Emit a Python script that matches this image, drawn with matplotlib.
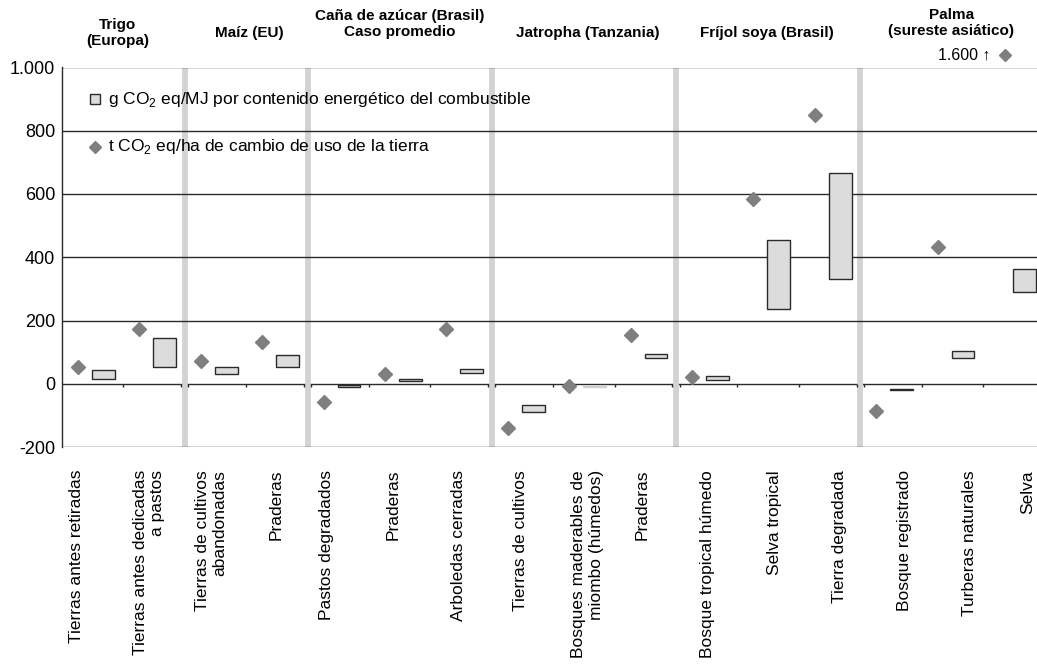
import matplotlib
matplotlib.use("Agg")
import matplotlib.pyplot as plt
import matplotlib.transforms as mtransforms
from matplotlib.ticker import FuncFormatter
import numpy as np

plt.rcParams["font.family"] = ["Liberation Sans", "DejaVu Sans"]
plt.rcParams["mathtext.fontset"] = "custom"
plt.rcParams["mathtext.rm"] = "Liberation Sans"

# grupos de cultivo (encabezados) y cuantas categorias tiene cada uno
grupos = ["Trigo\n(Europa)", "Maíz (EU)", "Caña de azúcar (Brasil)\nCaso promedio",
          "Jatropha (Tanzania)", "Fríjol soya (Brasil)", "Palma\n(sureste asiático)"]
n_por_grupo = [2, 2, 3, 3, 3, 3]

categorias = [
    "Tierras antes retiradas", "Tierras antes dedicadas\na pastos",
    "Tierras de cultivos\nabandonadas", "Praderas",
    "Pastos degradados", "Praderas", "Arboledas cerradas",
    "Tierras de cultivos", "Bosques maderables de\nmiombo (húmedos)", "Praderas",
    "Bosque tropical húmedo", "Selva tropical", "Tierra degradada",
    "Bosque registrado", "Turberas naturales", "Selva",
]

# t CO2 eq/ha de cambio de uso de la tierra (rombos)
t_ha = [52, 173, 72, 131, -59, 32, 173, -139, -7, 154, 22, 583, 851, -86, 431, 1600]
# g CO2 eq/MJ (rango de la caja)
g_mj_min = [15, 53, 30, 53, -10, 8, 35, -89, -10.5, 81, 12, 235, 332, -21, 82, 290]
g_mj_max = [44, 145, 52, 92, -3, 16, 47, -68, -8.5, 94, 24, 455, 667, -17, 103, 362]

# posiciones de las etiquetas del eje x (no coinciden exactamente con las categorias)
label_pos = [0.23, 1.42, 2.43, 3.49, 4.31, 5.40, 6.46, 7.47, 8.56, 9.45,
             10.52, 11.60, 12.66, 13.72, 14.78, 15.72]
header_pos = [0.91, 3.05, 5.5, 8.57, 11.48, 14.48]

W, H = 1037, 665
fig = plt.figure(figsize=(W / 100, H / 100), dpi=100)
ax = fig.add_axes([62 / W, 1 - 447 / H, (W - 62) / W, (447 - 67.5) / H])

n = len(categorias)
x = np.arange(n)
ax.set_xlim(0, (W - 62) / 61.4)
ax.set_ylim(-200, 1000)

# lineas horizontales
for v in [1000, 800, 600, 400, 200, -200]:
    ax.axhline(v, color="#2a2a2a", lw=1.0, zorder=4)
ax.axhline(0, color="#2a2a2a", lw=1.0, zorder=1)

# separadores entre grupos
limites = np.cumsum(n_por_grupo)[:-1]
for b in limites:
    ax.axvline(b, color="#d3d3d3", lw=4.2, zorder=2)

# marcas pequenas en la linea de cero
ticks = []
for b in range(1, n):
    if b in limites:
        ticks += [b - 0.06, b + 0.06]
    else:
        ticks.append(b)
ax.vlines(ticks, -9, 0, color="#2a2a2a", lw=1.0, zorder=3)

# cajas g CO2 eq/MJ
edge = ["#2a2a2a"] * n
edge[8] = "#d0d0d0"
alturas = np.array(g_mj_max) - np.array(g_mj_min)
ax.bar(x + 0.675, alturas, bottom=g_mj_min, width=0.37, color="#dcdcdc",
       edgecolor=edge, linewidth=1.0, zorder=5)

# rombos t CO2 eq/ha
ax.plot(x + 0.26, t_ha, ls="none", marker="D", ms=7, color="#7f7f7f",
        mec="#7f7f7f", zorder=6)

# ejes
for s in ["top", "right", "bottom"]:
    ax.spines[s].set_visible(False)
ax.spines["left"].set_color("#2a2a2a")
ax.spines["left"].set_linewidth(1.0)
ax.set_xticks([])
ax.set_yticks([-200, 0, 200, 400, 600, 800, 1000])
ax.yaxis.set_major_formatter(FuncFormatter(lambda v, p: f"{int(v):,}".replace(",", ".")))
ax.tick_params(axis="y", length=0, pad=5, labelsize=13)

# etiquetas de categoria (giradas)
for pos, lab in zip(label_pos, categorias):
    ax.annotate(lab, xy=(pos, -200), xycoords="data", xytext=(0, -16.5),
                textcoords="offset points", rotation=90, ha="center", va="top",
                multialignment="right", fontsize=12.5, annotation_clip=False)

# encabezados de grupo
trans = mtransforms.blended_transform_factory(ax.transData, fig.transFigure)
header_y = [33, 33, 24, 33, 33, 23]
for pos, yy, g in zip(header_pos, header_y, grupos):
    ax.text(pos, 1 - yy / H, g, transform=trans, ha="center", va="center",
            fontsize=11, fontweight="bold", linespacing=1.25)

# valor fuera de escala de la selva (palma)
ax.text(15.12, 1 - 55 / H, f"{t_ha[-1]:,}".replace(",", ".") + " \u2191",
        transform=trans, ha="right", va="center", fontsize=11.5)
ax.plot([15.36], [1 - 55 / H], transform=trans, marker="D", ms=6.5,
        color="#7f7f7f", clip_on=False)

# leyenda dentro del grafico
ax.plot([0.53], [900], marker="s", ms=7.5, color="#dcdcdc", mec="#2a2a2a",
        mew=1.0, zorder=6)
ax.text(0.75, 900, r"g CO$_\mathregular{2}$ eq/MJ por contenido energético del combustible",
        fontsize=12.5, va="center", zorder=6)
ax.plot([0.53], [750], marker="D", ms=6.5, color="#7f7f7f", zorder=6)
ax.text(0.75, 750, r"t CO$_\mathregular{2}$ eq/ha de cambio de uso de la tierra",
        fontsize=12.5, va="center", zorder=6)

fig.savefig("out.png", dpi=100)
